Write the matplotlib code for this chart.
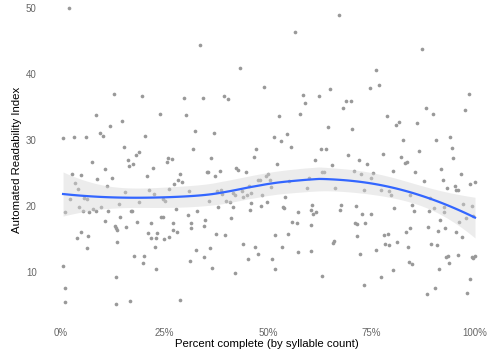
import numpy as np
import matplotlib
matplotlib.use("Agg")
import matplotlib.pyplot as plt
from matplotlib.ticker import FuncFormatter

# ---- data (percent complete, automated readability index) ----
pct_complete = [
    1.9, 12.8, 19.6, 8.4, 14.7, 11.8, 23.8, 0.5, 3.1, 6.0, 9.3, 10.1, 20.4, 15.1, 18.0, 18.8, 25.8,
    56.6, 33.6, 43.3, 49.1, 64.9, 29.7, 34.2, 39.4, 40.4, 58.5, 62.2, 58.9, 30.3, 52.7, 57.8, 64.4,
    32.4, 37.0, 51.4, 54.7, 53.1, 55.6, 31.9, 47.2, 46.5, 62.7, 63.9, 26.7, 36.2, 61.4,
    67.1, 87.3, 76.1, 74.6, 76.9, 98.6, 68.8, 70.0, 68.2, 88.2, 89.9, 97.5, 78.7, 81.7, 81.0, 86.1,
    70.4, 82.6, 90.7, 94.0, 94.5, 69.3, 77.8, 82.1, 86.5, 94.8,
    7.5, 16.1, 16.5, 17.5, 25.5, 22.2, 10.6, 2.7, 4.8, 8.8, 12.2, 20.8, 3.5, 11.0, 4.1, 15.4, 21.3,
    22.5, 5.6, 6.2, 2.2, 25.0, 24.6, 26.0, 18.9, 13.9, 4.3, 5.2, 6.8, 7.7, 8.5, 9.6, 11.3, 16.8, 17.1,
    0.9, 14.2, 24.2, 24.6, 10.7, 18.3, 21.7, 13.0, 13.4, 13.6, 15.6, 4.9, 3.8, 6.5, 21.1, 23.2, 21.7,
    22.9, 24.8, 26.1, 13.6, 22.7, 6.4, 17.6, 20.0, 19.8, 0.6, 23.0, 13.2, 1.0, 1.0, 13.3, 16.6, 28.7,
    52.1, 35.2, 35.5, 38.4, 37.3, 44.7, 42.3, 42.7, 28.7, 28.3, 29.2, 27.4, 30.9, 49.5, 50.1, 50.5,
    47.5, 48.1, 50.8, 45.4, 55.1, 59.4, 59.9, 63.1, 63.5, 37.8, 38.6, 39.0, 41.6, 42.0, 43.6, 43.9,
    44.9, 45.9, 48.6, 35.7, 39.8, 40.8, 45.9, 49.7, 54.2, 38.0, 41.5, 48.2, 45.7, 53.7, 53.9, 60.7,
    60.3, 60.8, 61.6, 57.2, 27.8, 32.9, 30.6, 41.0, 55.8, 56.9, 60.4, 34.7, 34.5, 31.4, 31.3, 27.0,
    27.1, 27.9, 37.4, 39.7, 51.6, 54.8, 44.0, 46.8, 47.7, 53.4, 57.2, 60.3, 35.9, 32.6, 34.5, 31.1,
    45.1, 51.0, 36.4, 51.7, 42.0, 63.1,
    72.1, 73.8, 65.5, 83.1, 83.6, 91.9, 70.8, 72.5, 75.4, 74.9, 80.1, 85.6, 96.5, 87.7, 92.3, 93.2,
    95.1, 95.5, 95.8, 98.9, 99.9, 66.3, 73.1, 77.2, 79.2, 79.6, 84.2, 89.2, 84.7, 85.2, 67.6, 67.4,
    71.3, 80.4, 88.9, 90.1, 92.6, 92.5, 97.0, 99.2, 72.7, 74.9, 97.8, 96.2, 99.6, 91.5, 70.9, 71.6,
    73.4, 88.6, 91.1, 92.8, 95.3, 84.4, 83.3, 96.8, 71.4, 77.9, 78.9, 65.9, 65.6, 78.2, 79.3, 81.2,
    89.3, 90.9, 83.8, 76.2, 72.2, 96.0, 99.3, 100.0, 99.6, 93.0, 93.5, 93.6, 84.1, 84.9, 80.2, 91.3,
    77.3, 73.2, 98.9, 90.3, 88.3, 98.0,
]
readability = [
    50.0, 36.9, 36.6, 33.8, 32.9, 32.1, 34.0, 30.35, 30.45, 30.5, 31.0, 30.65, 30.55, 28.9, 27.8, 28.2, 27.2,
    46.3, 44.4, 40.9, 38.0, 37.7, 36.4, 36.4, 36.7, 36.2, 36.8, 36.6, 35.6, 33.8, 33.7, 33.9, 31.9,
    31.3, 31.1, 30.5, 30.9, 29.85, 29.0, 28.7, 28.6, 27.5, 28.6, 28.7, 27.1, 27.3, 27.0,
    48.9, 43.8, 40.65, 37.9, 38.3, 37.0, 35.9, 35.9, 34.9, 34.8, 33.9, 34.5, 33.7, 32.8, 32.3, 32.6,
    31.7, 30.0, 30.0, 30.5, 28.8, 27.8, 27.9, 27.4, 28.3, 27.3,
    26.7, 26.9, 26.1, 26.3, 26.7, 25.8, 25.6, 24.9, 24.7, 24.1, 24.2, 24.5, 23.5, 23.1, 22.6, 22.1, 22.4,
    21.8, 21.2, 21.0, 21.0, 20.8, 21.1, 22.6, 20.6, 20.3, 19.85, 19.3, 19.1, 19.5, 19.3, 19.9, 19.3, 19.3, 19.2,
    19.1, 18.4, 18.3, 18.3, 17.7, 17.6, 17.5, 16.9, 16.6, 16.4, 16.8, 16.0, 15.2, 15.5, 15.9, 15.9, 15.1,
    15.1, 14.95, 15.35, 14.5, 13.8, 13.6, 12.4, 12.4, 11.4, 10.9, 10.5, 9.3, 7.6, 5.45, 5.1, 5.6, 5.8,
    26.4, 25.2, 25.1, 25.3, 24.5, 25.1, 25.7, 25.4, 24.8, 24.0, 23.7, 23.3, 22.3, 24.5, 24.9, 24.0,
    24.0, 24.0, 22.9, 23.1, 23.8, 22.8, 24.2, 25.2, 25.2, 22.3, 22.5, 21.8, 21.9, 21.6, 22.2, 21.3,
    21.6, 21.9, 21.7, 20.8, 20.8, 20.6, 20.5, 20.65, 21.3, 19.9, 19.85, 20.05, 19.35, 19.9, 19.65, 20.1,
    19.4, 18.8, 19.05, 19.1, 19.5, 19.2, 18.6, 18.2, 17.6, 17.4, 17.1, 17.9, 16.9, 17.4, 16.7, 17.4,
    16.3, 16.1, 15.8, 15.6, 15.65, 15.75, 14.2, 13.8, 12.8, 13.85, 13.0, 13.2, 13.7, 13.4, 12.3, 11.7,
    12.0, 12.0, 10.6, 10.45, 9.9, 9.4,
    26.9, 26.4, 26.2, 26.5, 26.7, 25.65, 25.35, 24.85, 24.95, 24.3, 25.25, 25.15, 24.9, 23.75, 23.9, 22.8,
    23.1, 22.5, 22.4, 23.4, 23.6, 22.8, 22.4, 22.4, 22.2, 21.6, 21.7, 21.25, 20.2, 19.2, 20.1, 19.4,
    19.95, 19.7, 19.3, 19.7, 19.8, 19.1, 20.3, 20.0, 18.8, 18.8, 18.2, 17.6, 18.5, 17.9, 17.5, 17.3,
    17.5, 16.8, 16.2, 16.6, 16.1, 16.7, 16.1, 15.35, 15.4, 15.6, 15.75, 14.7, 14.45, 14.3, 14.1, 14.55,
    14.25, 14.1, 13.8, 13.3, 12.8, 12.6, 12.3, 12.35, 12.05, 12.2, 12.5, 11.3, 11.5, 11.2, 10.35, 10.4,
    9.3, 8.1, 9.0, 7.6, 6.6, 6.8,
]
x_ticks = [0, 25, 50, 75, 100]
y_ticks = [10, 20, 30, 40, 50]

x = np.asarray(pct_complete, dtype=float)
y = np.asarray(readability, dtype=float)


# ---- loess smoother (local quadratic, tricube, span 0.75) with 95% band ----
def loess_rows(xs, x0s, span=0.75):
    n = len(xs)
    q = int(np.floor(n * span))
    rows = []
    for x0 in x0s:
        d = np.abs(xs - x0)
        h = np.sort(d)[q - 1]
        u = np.clip(d / h, 0, 1)
        w = (1 - u ** 3) ** 3
        X = np.vstack([np.ones(n), xs - x0, (xs - x0) ** 2]).T
        XtW = X.T * w
        A = XtW @ X
        rows.append(np.linalg.solve(A, XtW)[0])
    return np.array(rows)


L = loess_rows(x, x)
I = np.eye(len(x))
M = (I - L).T @ (I - L)
one_delta = np.trace(M)
res = y - L @ y
s = np.sqrt(np.sum(res ** 2) / one_delta)

xe = np.linspace(x.min(), x.max(), 120)
Le = loess_rows(x, xe)
fit = Le @ y
se = s * np.sqrt(np.sum(Le ** 2, axis=1))
tq = 1.968
lo, hi = fit - tq * se, fit + tq * se

# ---- figure ----
W, H = 492, 349
fig = plt.figure(figsize=(W / 100, H / 100), dpi=100)
ax_l, ax_r, ax_t, ax_b = 45, 488, 2, 318
ax = fig.add_axes([ax_l / W, 1 - ax_b / H, (ax_r - ax_l) / W, (ax_b - ax_t) / H])

ax.scatter(x, y, s=7, color="#999999", linewidths=0, zorder=2)
ax.fill_between(xe, lo, hi, color="#d6d6d6", alpha=0.45, linewidth=0, zorder=3)
ax.plot(xe, fit, color="#3366FF", linewidth=1.6, zorder=4)

# x: 0 -> px 61, 100 -> px 475 ; y: 50 -> px 8, 10 -> px 272
xs_per_px = 100 / (475 - 61)
ax.set_xlim(-(61 - ax_l) * xs_per_px, 100 + (ax_r - 475) * xs_per_px)
ys_per_px = 40 / (272 - 8)
ax.set_ylim(10 - (ax_b - 272) * ys_per_px, 50 + (8 - ax_t) * ys_per_px)

ax.set_xticks(x_ticks)
ax.set_yticks(y_ticks)
ax.xaxis.set_major_formatter(FuncFormatter(lambda v, p: f"{v:.0f}%"))
for sp in ax.spines.values():
    sp.set_visible(False)
ax.tick_params(length=0, labelsize=7, labelcolor="#666666")
ax.tick_params(axis="x", pad=7.5)
ax.tick_params(axis="y", pad=6)
for lab in ax.get_xticklabels() + ax.get_yticklabels():
    lab.set_family("Liberation Sans")

ax.set_xlabel("Percent complete (by syllable count)", fontsize=8.2,
              family="Liberation Sans", labelpad=0.5)
ax.set_ylabel("Automated Readability Index", fontsize=8.2,
              family="Liberation Sans", labelpad=3)

fig.savefig("out.png", dpi=100, facecolor="white")
